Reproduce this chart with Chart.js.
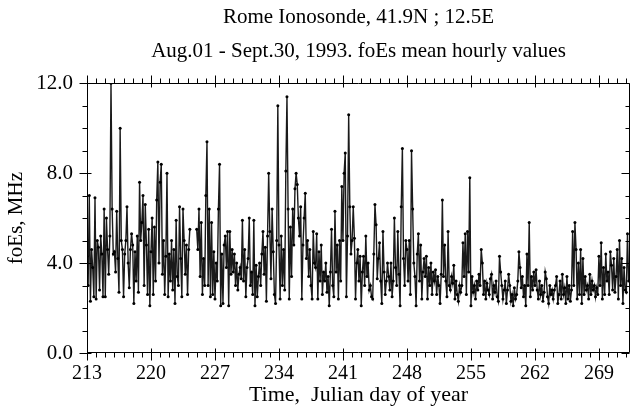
<!DOCTYPE html>
<html>
<head>
<meta charset="utf-8">
<script src="https://cdn.jsdelivr.net/npm/chart.js@4.4.0/dist/chart.umd.min.js"></script>
<style>
  html, body { margin: 0; padding: 0; background: #fff; }
  #wrap { width: 636px; height: 411px; }
</style>
</head>
<body>
<div id="wrap"><canvas id="chart"></canvas></div>
<script>
// foEs hourly means at 3-hour steps (MHz), one row per day
const hours = [0, 3, 6, 9, 12, 15, 18, 21]
const firstDay = 213

const week1 = [ // days 213-219
  4.3, 3.0, 7.0, 2.3, 4.6, 3.8, 2.5, 6.9,
  2.4, 5.0, 4.7, 2.8, 5.2, 4.4, 2.5, 6.4,
  2.5, 6.0, 4.6, 3.5, 5.2, 12.0, 6.4, 4.4,
  4.5, 3.6, 6.3, 4.2, 2.7, 10.0, 5.0, 4.6,
  2.5, 4.4, 5.0, 6.5, 4.0, 2.9, 4.6, 5.3,
  4.8, 2.2, 4.5, 3.2, 5.2, 2.7, 7.6, 5.0,
  5.8, 7.0, 3.0, 6.6, 4.8, 2.6, 5.5, 2.1
]
const week2 = [ // days 220-226
  4.5, 6.0, 2.6, 5.6, 3.2, 6.8, 8.5, 4.0,
  7.6, 8.4, 3.5, 5.0, 2.6, 4.3, 8.0, 2.5,
  4.4, 3.2, 5.0, 2.8, 4.6, 2.2, 5.9, 3.4,
  3.0, 6.5, 4.2, 2.5, 6.4, 5.0, 3.5, 4.8,
  2.6, 4.6, 5.5, null, null, null, null, null,
  5.5, 4.6, 6.4, 3.4, 5.8, 2.6, 4.2, 3.0,
  7.0, 9.4, 3.0, 6.4, 2.5, 5.8, 2.6, 4.5
]
const week3 = [ // days 227-233
  2.4, 4.0, 3.2, 6.4, 8.4, 2.1, 4.4, 2.2,
  4.8, 5.2, 3.8, 5.4, 2.1, 5.4, 3.5, 4.6,
  3.6, 4.4, 3.0, 4.0, 2.8, 3.5, 3.8, 3.3,
  5.9, 3.2, 4.6, 2.5, 3.8, 4.2, 6.0, 3.0,
  3.6, 2.6, 5.9, 2.1, 3.9, 2.5, 3.4, 4.0,
  3.0, 4.4, 5.4, 3.5, 4.7, 2.3, 5.2, 8.0,
  5.4, 3.3, 6.4, 4.5, 2.6, 2.2, 5.0, 11.0
]
const week4 = [ // days 234-240
  4.8, 2.4, 5.2, 3.0, 4.6, 2.8, 8.1, 11.4,
  6.4, 2.4, 5.6, 3.4, 6.4, 4.8, 7.3, 8.0,
  7.5, 6.0, 5.2, 6.5, 2.4, 4.8, 6.0, 7.1,
  4.2, 5.0, 3.4, 4.6, 3.0, 2.4, 5.4, 4.0,
  3.8, 5.3, 2.4, 4.5, 3.2, 4.8, 2.6, 3.6,
  3.2, 4.0, 2.7, 3.4, 2.1, 3.6, 5.5, 3.0,
  2.5, 6.3, 3.6, 4.8, 2.4, 5.0, 3.2, 7.4
]
const week5 = [ // days 241-247
  5.0, 8.0, 8.9, 2.5, 5.2, 10.6, 6.5, 4.4,
  5.0, 6.5, 5.1, 2.4, 4.0, 4.6, 3.2, 4.3,
  2.1, 3.6, 4.3, 3.0, 5.2, 3.4, 4.0, 2.8,
  3.0, 2.5, 2.4, 4.4, 6.6, 5.7, 3.3, 4.2,
  4.9, 3.2, 2.2, 5.4, 3.6, 2.6, 3.2, 4.0,
  3.4, 2.8, 4.0, 2.5, 3.2, 6.0, 3.8, 3.0,
  5.4, 3.5, 2.1, 6.5, 9.1, 4.2, 3.0, 5.0
]
const week6 = [ // days 248-254
  4.6, 3.2, 5.0, 2.6, 9.0, 6.4, 4.0, 3.4,
  2.1, 4.4, 5.3, 3.2, 4.8, 2.4, 3.6, 4.2,
  3.4, 4.3, 2.4, 3.8, 3.0, 4.0, 2.6, 3.6,
  3.2, 3.7, 2.6, 3.4, 3.0, 2.2, 3.5, 6.8,
  3.4, 4.8, 3.2, 2.5, 5.4, 3.0, 2.8, 3.4,
  3.1, 3.9, 2.4, 3.2, 2.6, 2.3, 3.0, 2.7,
  3.0, 4.9, 3.4, 5.3, 2.6, 5.4, 3.6, 7.8
]
const week7 = [ // days 255-261
  2.1, 3.4, 2.7, 3.0, 2.4, 3.2, 2.8, 3.5,
  3.0, 4.6, 4.0, 2.6, 3.2, 2.4, 3.1, 2.8,
  2.6, 3.3, 3.5, 2.4, 3.0, 2.7, 3.2, 2.5,
  2.3, 4.3, 3.6, 3.0, 2.4, 2.8, 3.2, 2.2,
  2.8, 3.5, 3.0, 2.3, 2.6, 2.1, 2.9, 2.4,
  2.6, 3.2, 4.5, 3.8, 2.9, 3.4, 2.5, 3.0,
  2.1, 4.4, 3.0, 5.8, 2.5, 3.4, 2.8, 3.6
]
const week8 = [ // days 262-268
  3.0, 3.7, 2.8, 2.4, 3.2, 2.6, 3.0, 2.3,
  2.7, 3.6, 3.3, 2.5, 2.2, 3.0, 2.6, 2.8,
  2.4, 2.8, 3.0, 3.4, 2.2, 2.6, 3.2, 2.4,
  3.5, 2.6, 2.9, 2.2, 3.4, 2.4, 3.0, 2.3,
  2.8, 5.4, 3.0, 5.8, 4.6, 2.4, 4.0, 2.6,
  4.6, 2.2, 4.2, 2.6, 3.4, 2.8, 3.0, 2.4,
  3.5, 2.6, 3.2, 2.8, 3.0, 2.5, 2.9, 2.6
]
const week9 = [ // days 269-272
  4.3, 3.0, 4.9, 2.4, 3.8, 2.6, 4.4, 3.2,
  3.6, 2.6, 4.5, 3.9, 2.8, 4.2, 2.7, 3.4,
  4.6, 2.4, 5.0, 3.0, 4.2, 2.2, 3.8, 2.8,
  2.7, 5.3, 3.2
]

const yTicks = [0, 4, 8, 12]
const xLabelDays = [213, 220, 227, 234, 241, 248, 255, 262, 269]

const foEs = [week1, week2, week3, week4, week5, week6, week7, week8, week9].flat()
const points = foEs.map((v, i) => ({
  x: firstDay + Math.floor(i / hours.length) + hours[i % hours.length] / 24,
  y: v
}))

const serif = "'Liberation Serif', 'Times New Roman', serif"
Chart.defaults.font.family = serif
Chart.defaults.color = '#000'

// frame + tick marks (minor every day / every 1 MHz)
const frameTicks = {
  id: 'frameTicks',
  afterDatasetsDraw(chart) {
    const { ctx, chartArea: a, scales: { x, y } } = chart
    const L = Math.round(a.left) + 0.5
    const R = Math.round(a.right) - 0.5
    const T = Math.round(a.top) + 0.5
    const B = Math.round(a.bottom) - 0.5
    ctx.save()
    ctx.strokeStyle = '#000'
    ctx.lineWidth = 1
    ctx.beginPath()
    ctx.rect(L, T, R - L, B - T)
    for (let d = firstDay; d <= Math.floor(x.max); d++) {
      const px = Math.round(x.getPixelForValue(d)) + 0.5
      const major = xLabelDays.includes(d)
      ctx.moveTo(px, B - (major ? 4 : 0)); ctx.lineTo(px, B + (major ? 8 : 5))
      ctx.moveTo(px, T + (major ? 4 : 0)); ctx.lineTo(px, T - (major ? 8 : 5))
    }
    for (let v = 0; v <= 12; v++) {
      const py = Math.round(y.getPixelForValue(v)) + 0.5
      const major = yTicks.includes(v)
      ctx.moveTo(L + (major ? 4 : 0), py); ctx.lineTo(L - (major ? 8 : 5), py)
      ctx.moveTo(R, py); ctx.lineTo(R - (major ? 8 : 4), py)
    }
    ctx.stroke()
    ctx.restore()
  }
}

new Chart(document.getElementById('chart'), {
  type: 'line',
  data: {
    datasets: [{
      data: points,
      borderColor: '#1a1a1a',
      borderWidth: 1.4,
      pointRadius: 1.5,
      pointBorderWidth: 0,
      pointBackgroundColor: '#000',
      pointHoverRadius: 0,
      spanGaps: false,
      tension: 0
    }]
  },
  options: {
    responsive: true,
    maintainAspectRatio: false,
    animation: false,
    devicePixelRatio: 1,
    layout: { padding: { left: 0, right: 6, top: 0, bottom: 0 } },
    plugins: {
      legend: { display: false },
      tooltip: { enabled: false },
      title: {
        display: true,
        fullSize: false,
        text: ['Rome Ionosonde, 41.9N ; 12.5E', 'Aug.01 - Sept.30, 1993. foEs mean hourly values'],
        color: '#000',
        font: { family: serif, size: 21, weight: 'normal', lineHeight: 1.6 },
        padding: { top: 1, bottom: 15 }
      }
    },
    scales: {
      x: {
        type: 'linear',
        min: 213,
        max: 272.4,
        afterFit: (s) => { s.height = 58 },
        afterBuildTicks: (s) => { s.ticks = xLabelDays.map(d => ({ value: d })) },
        grid: { display: false, drawTicks: false },
        border: { display: false },
        ticks: {
          autoSkip: false,
          maxRotation: 0,
          padding: 9,
          font: { size: 20 },
          color: '#000'
        },
        title: {
          display: true,
          text: 'Time,  Julian day of year',
          font: { size: 22 },
          color: '#000',
          padding: { top: 0, bottom: 3 }
        }
      },
      y: {
        min: 0,
        max: 12,
        afterFit: (s) => { s.width = 87 },
        afterBuildTicks: (s) => { s.ticks = yTicks.map(v => ({ value: v })) },
        grid: { display: false, drawTicks: false },
        border: { display: false },
        ticks: {
          padding: 14,
          font: { size: 21 },
          color: '#000',
          callback: (v) => v.toFixed(1)
        },
        title: {
          display: true,
          text: 'foEs, MHz',
          font: { size: 21 },
          color: '#000',
          padding: { top: 4, bottom: 0 }
        }
      }
    }
  },
  plugins: [frameTicks]
})
</script>
</body>
</html>
